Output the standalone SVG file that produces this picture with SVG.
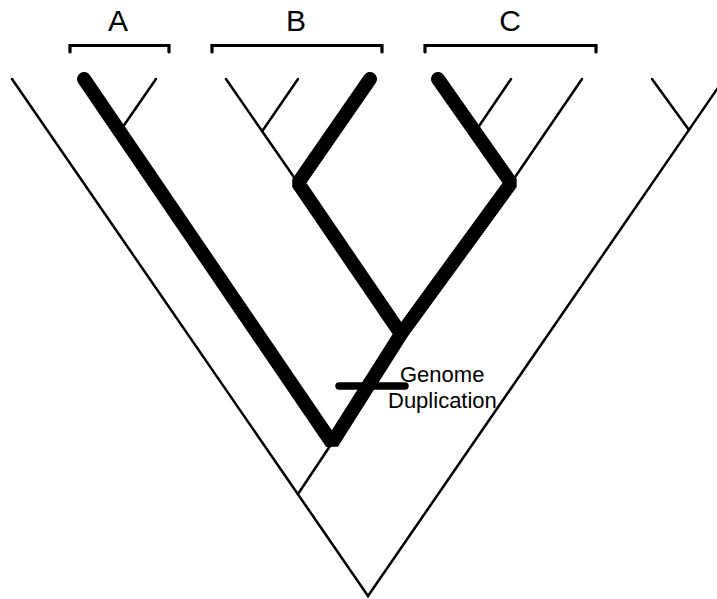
<svg xmlns="http://www.w3.org/2000/svg" width="717" height="599" viewBox="0 0 717 599">
<style>
.thin{fill:none;stroke:#000;stroke-width:2.5;stroke-linecap:round;stroke-linejoin:miter}
.thick{fill:none;stroke:#000;stroke-width:14;stroke-linecap:round;stroke-linejoin:bevel}
.br{fill:none;stroke:#000;stroke-width:3.2;stroke-linecap:round;stroke-linejoin:miter}
.lab{font-family:"Liberation Sans",Arial,sans-serif;font-size:30px;fill:#000;text-anchor:middle}
.gd{font-family:"Liberation Sans",Arial,sans-serif;font-size:22px;fill:#000}
</style>
<rect width="717" height="599" fill="#fff"/>
<g id="connectors">
  <polyline class="thin" points="12,79 368,596 724,79"/>
  <line class="thin" x1="652" y1="79" x2="689" y2="130"/>
  <line class="thin" x1="298" y1="494" x2="332" y2="443"/>
  <line class="thin" x1="156" y1="79" x2="120" y2="131"/>
  <line class="thin" x1="226" y1="79" x2="298" y2="183"/>
  <line class="thin" x1="298" y1="79" x2="263" y2="130"/>
  <line class="thin" x1="511" y1="79" x2="475" y2="132"/>
  <line class="thin" x1="582" y1="79" x2="511" y2="183"/>
  <polyline class="thick" points="84,79 332,443 401,334 298,183 370,79"/>
  <polyline class="thick" points="401,334 511,183 438,79"/>
</g>
<g id="clade-A">
  <path class="br" d="M70,52 V45.5 H169 V52"/>
  <text class="lab" x="118" y="31">A</text>
</g>
<g id="clade-B">
  <path class="br" d="M212,52 V45.5 H382 V52"/>
  <text class="lab" x="296" y="31">B</text>
</g>
<g id="clade-C">
  <path class="br" d="M425,52 V45.5 H596 V52"/>
  <text class="lab" x="510" y="31">C</text>
</g>
<g id="genome-duplication">
  <line x1="339" y1="386" x2="405" y2="386" stroke="#000" stroke-width="7.5" stroke-linecap="round"/>
  <text class="gd" x="400" y="382">Genome</text>
  <text class="gd" x="388" y="408">Duplication</text>
</g>
</svg>
